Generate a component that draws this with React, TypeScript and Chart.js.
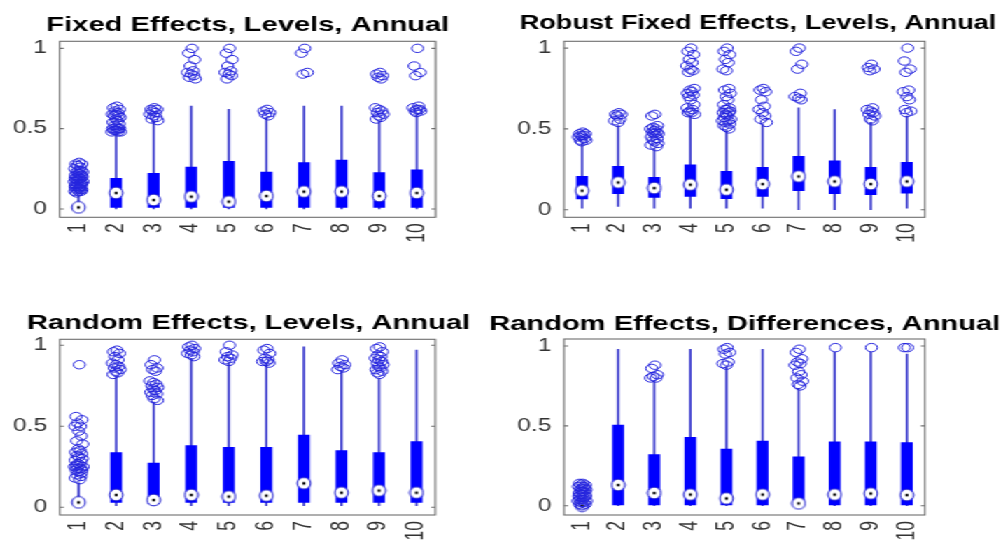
import React, { useEffect, useRef } from 'react';
import { Chart, registerables } from 'chart.js';

Chart.register(...registerables);

// ---------- data ----------
const CATEGORIES = ['1', '2', '3', '4', '5', '6', '7', '8', '9', '10'];
const Y_TICKS = [0, 0.5, 1];
// hand-written horizontal jitter (in category units) for outlier markers
const JITTER = [0.02, -0.07, 0.09, -0.03, 0.05, -0.1, 0.0, 0.07, -0.05, 0.11, -0.01, 0.04, -0.08, 0.08, -0.04, 0.01, 0.1, -0.09, 0.06, -0.02, 0.03, -0.06, 0.12, -0.11, 0.05, -0.03, 0.09, -0.07, 0.0, 0.07, -0.04, 0.06, -0.09, 0.03];

const TITLES = [
  'Fixed Effects, Levels, Annual',
  'Robust Fixed Effects, Levels, Annual',
  'Random Effects, Levels, Annual',
  'Random Effects, Differences, Annual',
];

// Fixed Effects, Levels, Annual
const feLow = [0, 0, 0, 0, 0, 0, 0, 0, 0, 0];
const feQ1 = [0.0, 0.01, 0.01, 0.01, 0.01, 0.01, 0.01, 0.01, 0.01, 0.01];
const feMed = [0.01, 0.1, 0.056, 0.077, 0.046, 0.081, 0.108, 0.108, 0.081, 0.1];
const feQ3 = [0.02, 0.19, 0.222, 0.26, 0.297, 0.23, 0.288, 0.305, 0.226, 0.243];
const feHigh = [0.08, 0.47, 0.55, 0.64, 0.62, 0.57, 0.64, 0.64, 0.55, 0.59];
const feOut = [
  [0.29, 0.28, 0.28, 0.27, 0.26, 0.25, 0.24, 0.24, 0.23, 0.23, 0.22, 0.22, 0.21, 0.21, 0.2, 0.2, 0.2, 0.19, 0.19, 0.18, 0.18, 0.18, 0.17, 0.17, 0.16, 0.16, 0.16, 0.15, 0.15, 0.15, 0.14, 0.14, 0.14, 0.13, 0.13, 0.13, 0.12, 0.12, 0.12, 0.11, 0.11, 0.11, 0.1],
  [0.64, 0.63, 0.62, 0.61, 0.6, 0.59, 0.59, 0.58, 0.58, 0.57, 0.56, 0.55, 0.54, 0.53, 0.52, 0.51, 0.5, 0.5, 0.5, 0.49, 0.49, 0.49, 0.48, 0.48, 0.48],
  [0.63, 0.62, 0.62, 0.61, 0.6, 0.59, 0.58, 0.57, 0.56, 0.55],
  [1.0, 0.97, 0.93, 0.89, 0.86, 0.85, 0.84, 0.83, 0.82, 0.81],
  [1.0, 0.97, 0.93, 0.89, 0.86, 0.85, 0.84, 0.83, 0.81],
  [0.62, 0.61, 0.6, 0.59, 0.58],
  [1.0, 0.97, 0.85, 0.84],
  [],
  [0.85, 0.84, 0.83, 0.82, 0.81, 0.63, 0.62, 0.61, 0.6, 0.59, 0.58, 0.57, 0.56],
  [1.0, 0.89, 0.85, 0.83, 0.64, 0.63, 0.62, 0.62, 0.61, 0.61, 0.6],
];

// Robust Fixed Effects, Levels, Annual
const rfeLow = [0.01, 0.02, 0.01, 0.01, 0.01, 0.01, 0.0, 0.0, 0.0, 0.01];
const rfeQ1 = [0.066, 0.099, 0.076, 0.082, 0.068, 0.082, 0.118, 0.099, 0.093, 0.103];
const rfeMed = [0.118, 0.169, 0.134, 0.155, 0.124, 0.159, 0.206, 0.175, 0.159, 0.175];
const rfeQ3 = [0.206, 0.268, 0.2, 0.278, 0.237, 0.262, 0.33, 0.303, 0.262, 0.293];
const rfeHigh = [0.41, 0.52, 0.38, 0.58, 0.49, 0.53, 0.63, 0.62, 0.54, 0.58];
const rfeOut = [
  [0.48, 0.47, 0.47, 0.46, 0.46, 0.45, 0.45, 0.44, 0.43, 0.43, 0.42],
  [0.6, 0.59, 0.59, 0.58, 0.56, 0.55, 0.54],
  [0.59, 0.58, 0.52, 0.51, 0.5, 0.5, 0.49, 0.48, 0.48, 0.47, 0.47, 0.46, 0.45, 0.44, 0.43, 0.42, 0.41, 0.4, 0.39],
  [1.0, 0.98, 0.96, 0.93, 0.91, 0.89, 0.87, 0.86, 0.85, 0.75, 0.74, 0.73, 0.72, 0.71, 0.7, 0.68, 0.65, 0.63, 0.62, 0.61, 0.6, 0.6, 0.59],
  [1.0, 0.98, 0.96, 0.93, 0.91, 0.87, 0.86, 0.75, 0.74, 0.72, 0.7, 0.68, 0.65, 0.63, 0.62, 0.62, 0.61, 0.6, 0.6, 0.59, 0.58, 0.57, 0.56, 0.55, 0.55, 0.54, 0.53, 0.52, 0.51, 0.5],
  [0.75, 0.74, 0.73, 0.68, 0.64, 0.62, 0.6, 0.58, 0.56, 0.54],
  [1.0, 0.98, 0.9, 0.87, 0.72, 0.7, 0.69, 0.68],
  [],
  [0.9, 0.88, 0.87, 0.86, 0.63, 0.62, 0.61, 0.6, 0.59, 0.58, 0.56, 0.55],
  [1.0, 0.92, 0.87, 0.85, 0.74, 0.73, 0.7, 0.68, 0.62, 0.61, 0.6],
];

// Random Effects, Levels, Annual
const reLow = [0.01, 0.01, 0.01, 0.01, 0.01, 0.01, 0.01, 0.01, 0.01, 0.01];
const reQ1 = [0.02, 0.03, 0.02, 0.03, 0.03, 0.03, 0.03, 0.03, 0.03, 0.03];
const reMed = [0.03, 0.076, 0.045, 0.076, 0.066, 0.072, 0.148, 0.09, 0.103, 0.09];
const reQ3 = [0.05, 0.337, 0.272, 0.38, 0.37, 0.37, 0.446, 0.35, 0.337, 0.405];
const reHigh = [0.15, 0.81, 0.65, 0.92, 0.89, 0.89, 0.99, 0.84, 0.79, 0.97];
const reOut = [
  [0.88, 0.56, 0.54, 0.52, 0.5, 0.5, 0.47, 0.44, 0.41, 0.39, 0.36, 0.35, 0.34, 0.33, 0.32, 0.31, 0.3, 0.29, 0.28, 0.27, 0.26, 0.26, 0.25, 0.25, 0.24, 0.24, 0.23, 0.23, 0.22, 0.21, 0.2, 0.19, 0.18, 0.17],
  [0.97, 0.96, 0.95, 0.93, 0.91, 0.89, 0.88, 0.87, 0.86, 0.85, 0.84, 0.83, 0.82],
  [0.91, 0.88, 0.86, 0.85, 0.84, 0.78, 0.77, 0.76, 0.75, 0.74, 0.73, 0.72, 0.71, 0.7, 0.69, 0.67, 0.66],
  [1.0, 0.99, 0.98, 0.97, 0.96, 0.95, 0.94, 0.93],
  [1.0, 0.96, 0.94, 0.93, 0.92, 0.91, 0.9],
  [0.98, 0.97, 0.95, 0.92, 0.91, 0.9, 0.9, 0.89],
  [],
  [0.91, 0.89, 0.88, 0.87, 0.86, 0.85],
  [0.99, 0.98, 0.96, 0.94, 0.93, 0.92, 0.91, 0.9, 0.89, 0.88, 0.87, 0.86, 0.85, 0.84, 0.83, 0.82],
  [],
];

// Random Effects, Differences, Annual
const rdLow = [0, 0, 0, 0, 0, 0, 0, 0, 0, 0];
const rdQ1 = [0, 0.005, 0.005, 0.005, 0.005, 0.005, 0.005, 0.005, 0.005, 0.005];
const rdMed = [0.0, 0.13, 0.08, 0.07, 0.046, 0.07, 0.015, 0.07, 0.077, 0.067];
const rdQ3 = [0.0, 0.505, 0.32, 0.428, 0.355, 0.405, 0.307, 0.4, 0.4, 0.395];
const rdHigh = [0.0, 0.98, 0.78, 0.98, 0.87, 0.98, 0.735, 0.96, 0.96, 0.95];
const rdOut = [
  [0.14, 0.14, 0.13, 0.13, 0.12, 0.12, 0.11, 0.11, 0.1, 0.1, 0.09, 0.09, 0.08, 0.08, 0.07, 0.07, 0.06, 0.06, 0.05, 0.05, 0.04, 0.04, 0.03, 0.03, 0.02, 0.02, 0.01, 0.01, 0.0],
  [],
  [0.88, 0.86, 0.82, 0.81, 0.8, 0.8],
  [],
  [0.99, 0.98, 0.96, 0.95, 0.9, 0.89, 0.88],
  [],
  [0.98, 0.96, 0.92, 0.9, 0.89, 0.88, 0.84, 0.82, 0.8, 0.78, 0.76, 0.75],
  [0.99],
  [0.99],
  [0.99, 0.99],
];

// ---------- layout / style ----------
const STRETCH = 1.4;
const FONT = "'Liberation Sans', Arial, Helvetica, sans-serif";
const BOX_COLOR = '#0000ff';
const WHISKER_COLOR = '#3838cc';
const OUTLIER_COLOR = '#2424dd';

const PANELS = [
  { title: TITLES[0], low: feLow, q1: feQ1, med: feMed, q3: feQ3, high: feHigh, out: feOut,
    left: 0, top: 0, width: 354, height: 270, yAxisW: 42.6, rightW: 42.9, titleSize: 20.8, padTop: 14.6, padBottom: 5.9, xAxisH: 52.7, yMin: -0.052, yMax: 1.044 },
  { title: TITLES[1], low: rfeLow, q1: rfeQ1, med: rfeMed, q3: rfeQ3, high: rfeHigh, out: rfeOut,
    left: 365, top: 0, width: 353, height: 270, yAxisW: 37.9, rightW: 57.3, titleSize: 19.4, padTop: 13.6, padBottom: 8.3, xAxisH: 52.7, yMin: -0.047, yMax: 1.042 },
  { title: TITLES[2], low: reLow, q1: reQ1, med: reMed, q3: reQ3, high: reHigh, out: reOut,
    left: 0, top: 270, width: 355, height: 330, yAxisW: 42.7, rightW: 44.1, titleSize: 20.8, padTop: 43.1, padBottom: 5.4, xAxisH: 85, yMin: -0.048, yMax: 1.037 },
  { title: TITLES[3], low: rdLow, q1: rdQ1, med: rdMed, q3: rdQ3, high: rdHigh, out: rdOut,
    left: 345, top: 270, width: 374, height: 330, yAxisW: 57.9, rightW: 58.3, titleSize: 20.8, padTop: 43.4, padBottom: 4.8, xAxisH: 85, yMin: -0.058, yMax: 1.044 },
];

function makeMedianMarker() {
  const c = document.createElement('canvas');
  c.width = 12;
  c.height = 14;
  const g = c.getContext('2d');
  if (g) {
    g.beginPath();
    g.ellipse(6, 7, 4.8, 5.9, 0, 0, Math.PI * 2);
    g.fillStyle = '#ffffff';
    g.fill();
    g.lineWidth = 1;
    g.strokeStyle = '#1a1acc';
    g.stroke();
    g.beginPath();
    g.ellipse(6, 7, 1.15, 1.6, 0, 0, Math.PI * 2);
    g.fillStyle = '#000000';
    g.fill();
  }
  return c;
}

const axesBoxPlugin = {
  id: 'axesBox',
  afterDraw(chart: any) {
    const { ctx, chartArea: a, scales } = chart;
    ctx.save();
    ctx.strokeStyle = '#6e6e6e';
    ctx.lineWidth = 1.1;
    ctx.strokeRect(a.left, a.top, a.right - a.left, a.bottom - a.top);
    const ys = scales.y;
    Y_TICKS.forEach((v) => {
      const p = ys.getPixelForValue(v);
      ctx.beginPath();
      ctx.moveTo(a.left, p);
      ctx.lineTo(a.left + 3, p);
      ctx.moveTo(a.right, p);
      ctx.lineTo(a.right - 3, p);
      ctx.stroke();
    });
    ctx.restore();
  },
};

function buildConfig(p: any, marker: HTMLCanvasElement): any {
  const xs = CATEGORIES.map((_, i) => i + 1);
  const whiskers = xs.map((x, i) => ({ x, y: [p.low[i], p.high[i]] }));
  const boxes = xs.map((x, i) => ({ x, y: [p.q1[i], p.q3[i]] }));
  const medians = xs.map((x, i) => ({ x, y: p.med[i] }));
  const outliers: { x: number; y: number }[] = [];
  p.out.forEach((vals: number[], i: number) => {
    vals.forEach((v, j) => outliers.push({ x: xs[i] + JITTER[j % JITTER.length], y: v }));
  });

  return {
    type: 'bar',
    data: {
      datasets: [
        {
          type: 'scatter', label: 'Outliers', data: outliers, order: 0, xAxisID: 'x', yAxisID: 'y',
          showLine: false, pointStyle: 'circle', pointRadius: 4.2, borderWidth: 1, pointBorderWidth: 1,
          borderColor: OUTLIER_COLOR, pointBorderColor: OUTLIER_COLOR,
          backgroundColor: 'rgba(0,0,0,0)', pointBackgroundColor: 'rgba(0,0,0,0)',
        },
        {
          type: 'scatter', label: 'Median', data: medians, order: 1, xAxisID: 'x', yAxisID: 'y',
          showLine: false, pointStyle: marker, pointRadius: 5,
        },
        {
          type: 'bar', label: 'Box', data: boxes, order: 2, xAxisID: 'x', yAxisID: 'y',
          backgroundColor: BOX_COLOR, borderWidth: 0, barThickness: 7.8, grouped: false,
        },
        {
          type: 'bar', label: 'Whisker', data: whiskers, order: 3, xAxisID: 'x', yAxisID: 'y',
          backgroundColor: WHISKER_COLOR, borderWidth: 0, barThickness: 1, grouped: false,
        },
      ],
    },
    options: {
      responsive: false,
      maintainAspectRatio: false,
      animation: false,
      devicePixelRatio: 1,
      events: [],
      layout: { padding: 0 },
      plugins: {
        legend: { display: false },
        tooltip: { enabled: false },
        title: {
          display: true,
          text: p.title,
          color: '#000000',
          fullSize: true,
          font: { family: FONT, size: p.titleSize, weight: 'bold', lineHeight: 1 },
          padding: { top: p.padTop, bottom: p.padBottom },
        },
      },
      scales: {
        x: {
          type: 'linear',
          position: 'bottom',
          min: 0.5,
          max: 10.5,
          offset: false,
          grid: { display: false, drawTicks: false, offset: false },
          border: { display: false },
          afterBuildTicks: (s: any) => { s.ticks = xs.map((v) => ({ value: v })); },
          afterFit: (s: any) => { s.height = p.xAxisH; },
          ticks: {
            autoSkip: false,
            minRotation: 90,
            maxRotation: 90,
            padding: 6,
            color: '#333333',
            font: { family: FONT, size: 17.5 },
            callback: (v: any) => CATEGORIES[Math.round(v) - 1] ?? '',
          },
        },
        y: {
          type: 'linear',
          position: 'left',
          min: p.yMin,
          max: p.yMax,
          grid: { display: false, drawTicks: false },
          border: { display: false },
          afterBuildTicks: (s: any) => { s.ticks = Y_TICKS.map((v) => ({ value: v })); },
          afterFit: (s: any) => { s.width = p.yAxisW; },
          ticks: {
            padding: 9,
            color: '#333333',
            font: { family: FONT, size: 17.5 },
            callback: (v: any) => String(v),
          },
        },
        yR: {
          type: 'linear',
          position: 'right',
          display: true,
          grid: { display: false, drawTicks: false },
          border: { display: false },
          ticks: { display: false },
          afterFit: (s: any) => { s.width = p.rightW; },
        },
      },
    },
    plugins: [axesBoxPlugin],
  };
}

export default function App() {
  const r0 = useRef<HTMLCanvasElement | null>(null);
  const r1 = useRef<HTMLCanvasElement | null>(null);
  const r2 = useRef<HTMLCanvasElement | null>(null);
  const r3 = useRef<HTMLCanvasElement | null>(null);
  const refs = [r0, r1, r2, r3];

  useEffect(() => {
    const marker = makeMedianMarker();
    const charts = PANELS.map((p, i) => new Chart(refs[i].current as HTMLCanvasElement, buildConfig(p, marker)));
    return () => charts.forEach((c) => c.destroy());
  }, []);

  return (
    <div style={{ position: 'fixed', left: 0, top: 0, width: 1005, height: 541, overflow: 'hidden', background: '#ffffff' }}>
      <div style={{ position: 'absolute', left: 0, top: 0, width: 720, height: 600, transform: `scaleX(${STRETCH})`, transformOrigin: '0 0' }}>
        {PANELS.map((p, i) => (
          <canvas
            key={i}
            ref={refs[i]}
            width={p.width}
            height={p.height}
            style={{ position: 'absolute', left: p.left, top: p.top, width: p.width, height: p.height }}
          />
        ))}
      </div>
    </div>
  );
}
